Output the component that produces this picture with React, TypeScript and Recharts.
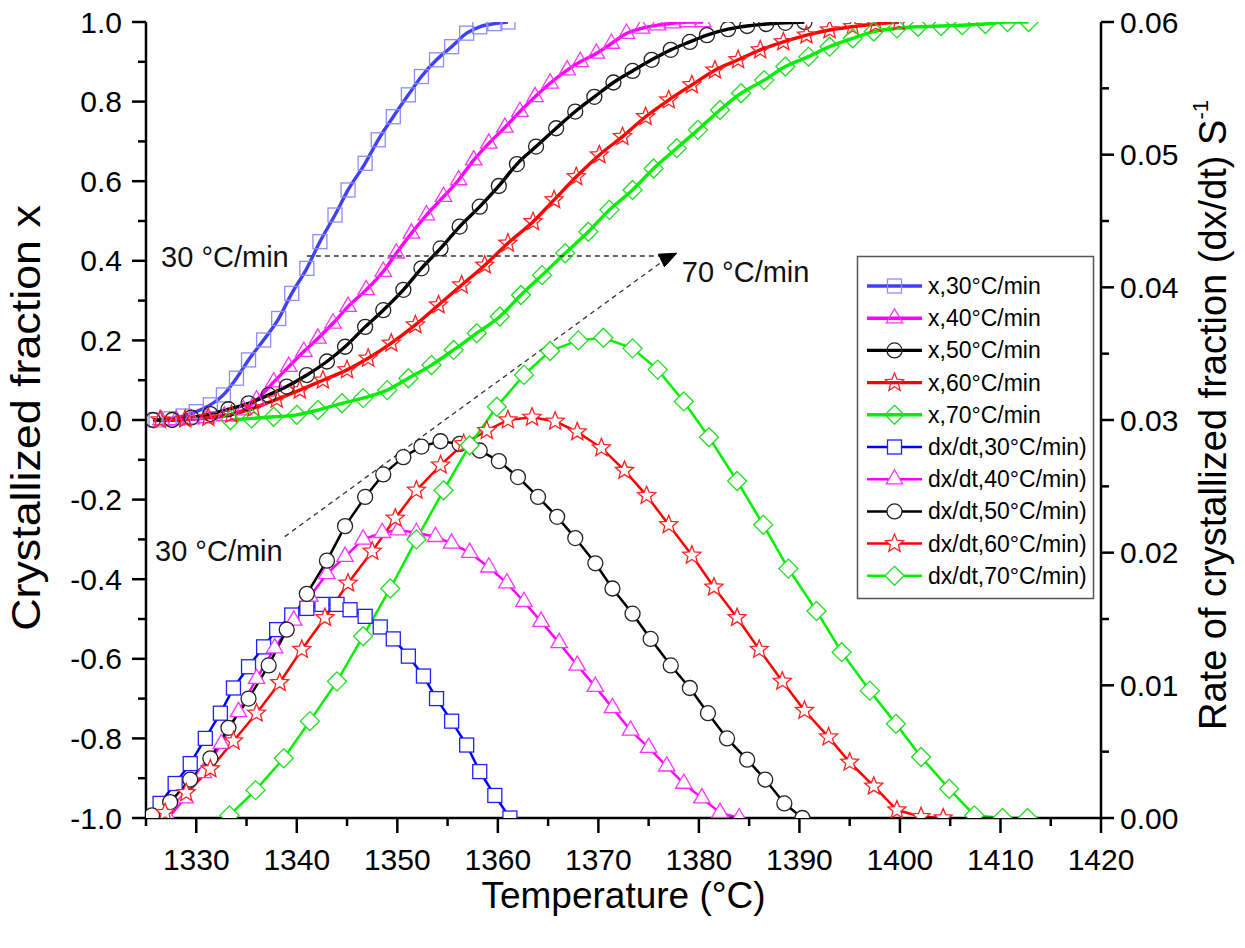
import React from "react";
import { LineChart, Line, XAxis, YAxis, ReferenceLine, ReferenceDot } from "recharts";

// [temperature °C, value]
const x30: [number, number][] = [
  [1326.0, 0.0], [1327.3, 0.003], [1328.7, 0.01], [1330.0, 0.021], [1331.4, 0.038], [1332.7, 0.063],
  [1334.0, 0.105], [1335.2, 0.151], [1336.7, 0.201], [1338.2, 0.255], [1339.5, 0.318], [1341.0, 0.381],
  [1342.3, 0.448], [1343.8, 0.515], [1345.1, 0.578], [1346.8, 0.645], [1348.1, 0.704], [1349.6, 0.762],
  [1351.1, 0.817], [1352.4, 0.863], [1353.9, 0.905], [1355.4, 0.938], [1356.9, 0.972], [1358.2, 0.988],
  [1359.7, 0.996], [1361.0, 1.0],
];
const x40: [number, number][] = [
  [1326.5, 0.0], [1328.0, 0.0], [1329.5, 0.002], [1331.0, 0.005], [1332.8, 0.01], [1334.7, 0.025],
  [1336.0, 0.05], [1337.7, 0.095], [1339.2, 0.134], [1340.7, 0.172], [1342.1, 0.205], [1343.6, 0.243],
  [1345.1, 0.285], [1346.9, 0.327], [1348.6, 0.373], [1349.9, 0.419], [1351.4, 0.469], [1352.9, 0.515],
  [1354.6, 0.561], [1356.1, 0.603], [1357.6, 0.653], [1359.1, 0.695], [1360.7, 0.735], [1362.2, 0.775],
  [1363.7, 0.812], [1365.2, 0.846], [1366.9, 0.879], [1368.2, 0.9], [1369.8, 0.921], [1371.3, 0.946],
  [1372.8, 0.971], [1374.3, 0.984], [1375.9, 0.992], [1377.4, 0.997], [1378.9, 1.0], [1380.4, 1.0],
];
const x50: [number, number][] = [
  [1325.7, 0.0], [1327.6, 0.0], [1329.5, 0.006], [1331.4, 0.015], [1333.2, 0.027], [1335.2, 0.042],
  [1337.2, 0.063], [1339.0, 0.084], [1341.0, 0.113], [1343.0, 0.147], [1344.8, 0.184], [1346.8, 0.234],
  [1348.6, 0.276], [1350.6, 0.327], [1352.4, 0.381], [1354.3, 0.431], [1356.2, 0.486], [1358.2, 0.536],
  [1360.1, 0.588], [1361.9, 0.643], [1363.8, 0.687], [1365.8, 0.733], [1367.7, 0.775], [1369.6, 0.812],
  [1371.5, 0.848], [1373.4, 0.877], [1375.3, 0.905], [1377.2, 0.93], [1379.1, 0.95], [1380.8, 0.967],
  [1382.9, 0.982], [1384.8, 0.99], [1386.7, 0.995], [1388.6, 0.998], [1390.5, 1.0],
];
const x60: [number, number][] = [
  [1326.4, 0.0], [1328.9, 0.002], [1331.2, 0.006], [1333.5, 0.014], [1335.7, 0.03], [1338.0, 0.052],
  [1340.3, 0.075], [1342.6, 0.1], [1345.0, 0.126], [1347.1, 0.155], [1349.4, 0.193], [1351.8, 0.239],
  [1354.1, 0.289], [1356.4, 0.339], [1358.7, 0.389], [1361.0, 0.444], [1363.5, 0.498], [1365.6, 0.553],
  [1367.8, 0.611], [1370.1, 0.666], [1372.4, 0.712], [1374.7, 0.762], [1377.0, 0.804], [1379.3, 0.842],
  [1381.6, 0.879], [1383.9, 0.905], [1386.1, 0.93], [1388.4, 0.95], [1390.7, 0.967], [1393.0, 0.98],
  [1395.3, 0.988], [1397.6, 0.995], [1399.9, 1.0],
];
const x70: [number, number][] = [
  [1333.4, 0.0], [1335.5, 0.004], [1337.7, 0.008], [1340.0, 0.013], [1342.1, 0.025], [1344.5, 0.042],
  [1346.6, 0.055], [1349.0, 0.075], [1351.1, 0.105], [1353.4, 0.138], [1355.6, 0.176], [1357.9, 0.218],
  [1360.2, 0.26], [1362.3, 0.314], [1364.4, 0.364], [1366.7, 0.419], [1369.0, 0.473], [1371.1, 0.528],
  [1373.4, 0.578], [1375.5, 0.632], [1377.8, 0.683], [1379.9, 0.729], [1382.1, 0.779], [1384.2, 0.821],
  [1386.5, 0.854], [1388.6, 0.888], [1390.9, 0.913], [1393.0, 0.938], [1395.3, 0.959], [1397.4, 0.976],
  [1399.7, 0.984], [1401.8, 0.988], [1404.1, 0.99], [1406.2, 0.992], [1408.5, 0.995], [1410.7, 1.0],
  [1412.8, 1.0],
];

const dx30: [number, number][] = [
  [1325.2, 0.0], [1326.4, 0.0011], [1327.9, 0.0026], [1329.4, 0.0041], [1330.9, 0.006], [1332.4, 0.0079],
  [1333.7, 0.0098], [1335.2, 0.0114], [1336.7, 0.0129], [1338.0, 0.0142], [1339.5, 0.0153], [1341.0, 0.0158],
  [1342.5, 0.0161], [1344.0, 0.0161], [1345.3, 0.0157], [1346.8, 0.0152], [1348.3, 0.0144], [1349.6, 0.0135],
  [1351.1, 0.0122], [1352.6, 0.0107], [1353.9, 0.009], [1355.4, 0.0073], [1356.9, 0.0055], [1358.2, 0.0035],
  [1359.7, 0.0017], [1361.2, 0.0],
];
const dx40: [number, number][] = [
  [1327.2, 0.0], [1328.9, 0.0015], [1330.7, 0.0034], [1332.5, 0.0056], [1334.2, 0.008], [1336.0, 0.0105],
  [1337.8, 0.0128], [1339.7, 0.0149], [1341.3, 0.0167], [1343.0, 0.0184], [1344.8, 0.0197], [1346.6, 0.021],
  [1348.5, 0.0215], [1350.1, 0.0217], [1351.9, 0.0215], [1353.8, 0.0212], [1355.4, 0.0207], [1357.2, 0.02],
  [1359.1, 0.0189], [1360.9, 0.0177], [1362.6, 0.0163], [1364.3, 0.0148], [1366.1, 0.0132], [1367.9, 0.0115],
  [1369.7, 0.0099], [1371.4, 0.0083], [1373.2, 0.0066], [1375.0, 0.0053], [1376.8, 0.0039], [1378.5, 0.0026],
  [1380.3, 0.0015], [1382.1, 0.0004], [1384.0, 0.0],
];
const dx50: [number, number][] = [
  [1325.6, 0.0002], [1327.4, 0.0012], [1329.4, 0.0029], [1331.4, 0.0045], [1333.2, 0.0068], [1335.2, 0.009],
  [1337.2, 0.0115], [1339.0, 0.0142], [1341.0, 0.0169], [1343.0, 0.0194], [1344.8, 0.022], [1346.8, 0.0242],
  [1348.6, 0.0259], [1350.6, 0.0272], [1352.4, 0.028], [1354.3, 0.0284], [1356.2, 0.0282], [1358.2, 0.0277],
  [1360.1, 0.0269], [1362.0, 0.0257], [1364.0, 0.0242], [1365.9, 0.0227], [1367.7, 0.0211], [1369.7, 0.0192],
  [1371.4, 0.0173], [1373.4, 0.0154], [1375.2, 0.0135], [1377.2, 0.0115], [1379.1, 0.0098], [1380.9, 0.0079],
  [1382.8, 0.006], [1384.8, 0.0044], [1386.6, 0.0029], [1388.5, 0.0011], [1390.3, 0.0],
];
const dx60: [number, number][] = [
  [1326.9, 0.0004], [1329.0, 0.0019], [1331.4, 0.0037], [1333.7, 0.0058], [1336.0, 0.0079], [1338.3, 0.0102],
  [1340.5, 0.0127], [1342.8, 0.0151], [1345.1, 0.0177], [1347.5, 0.0201], [1349.8, 0.0226], [1351.9, 0.0247],
  [1354.3, 0.0266], [1356.6, 0.0282], [1358.9, 0.0292], [1361.0, 0.03], [1363.4, 0.0302], [1365.7, 0.0299],
  [1367.9, 0.0291], [1370.3, 0.0279], [1372.6, 0.0262], [1374.8, 0.0243], [1377.0, 0.0221], [1379.3, 0.0198],
  [1381.5, 0.0174], [1383.8, 0.0151], [1386.0, 0.0127], [1388.3, 0.0103], [1390.5, 0.0081], [1392.9, 0.0061],
  [1395.0, 0.0042], [1397.4, 0.0024], [1399.7, 0.0006], [1402.1, 0.0001], [1404.3, 0.0],
];
const dx70: [number, number][] = [
  [1333.3, 0.0002], [1335.9, 0.0021], [1338.7, 0.0045], [1341.3, 0.0073], [1344.0, 0.0103], [1346.6, 0.0137],
  [1349.3, 0.0173], [1351.9, 0.021], [1354.6, 0.0247], [1357.2, 0.0281], [1359.9, 0.031], [1362.6, 0.0334],
  [1365.2, 0.0352], [1368.0, 0.036], [1370.5, 0.0362], [1373.4, 0.0354], [1375.9, 0.0338], [1378.5, 0.0314],
  [1381.0, 0.0287], [1383.8, 0.0254], [1386.4, 0.0221], [1388.9, 0.0188], [1391.7, 0.0156], [1394.2, 0.0125],
  [1397.0, 0.0096], [1399.6, 0.0071], [1402.1, 0.0046], [1404.9, 0.0022], [1407.4, 0.0002], [1410.2, 0.0],
  [1412.7, 0.0],
];

const xTicks = [1325, 1330, 1335, 1340, 1345, 1350, 1355, 1360, 1365, 1370, 1375, 1380, 1385, 1390, 1395, 1400, 1405, 1410, 1415, 1420];
const leftTicks = [-1.0, -0.9, -0.8, -0.7, -0.6, -0.5, -0.4, -0.3, -0.2, -0.1, 0.0, 0.1, 0.2, 0.3, 0.4, 0.5, 0.6, 0.7, 0.8, 0.9, 1.0];
const rightTicks = [0, 0.005, 0.01, 0.015, 0.02, 0.025, 0.03, 0.035, 0.04, 0.045, 0.05, 0.055, 0.06];

type Shape = "square" | "triangle" | "circle" | "star" | "diamond";
type Series = {
  name: string;
  pts: [number, number][];
  axis: "left" | "right";
  color: string;
  markColor: string;
  shape: Shape;
  filled: boolean;
  width: number;
  curve: "monotone" | "linear";
};

const series: Series[] = [
  { name: "x,30°C/min", pts: x30, axis: "left", color: "#4040f4", markColor: "#8c8cff", shape: "square", filled: false, width: 3.4, curve: "monotone" },
  { name: "x,40°C/min", pts: x40, axis: "left", color: "#ff00ff", markColor: "#ff33ff", shape: "triangle", filled: false, width: 3.4, curve: "monotone" },
  { name: "x,50°C/min", pts: x50, axis: "left", color: "#000000", markColor: "#222222", shape: "circle", filled: false, width: 3.4, curve: "monotone" },
  { name: "x,60°C/min", pts: x60, axis: "left", color: "#ff0000", markColor: "#ff2020", shape: "star", filled: false, width: 3.4, curve: "monotone" },
  { name: "x,70°C/min", pts: x70, axis: "left", color: "#00f000", markColor: "#22dd22", shape: "diamond", filled: false, width: 3.4, curve: "monotone" },
  { name: "dx/dt,30°C/min)", pts: dx30, axis: "right", color: "#0000ff", markColor: "#2020ff", shape: "square", filled: true, width: 2.5, curve: "linear" },
  { name: "dx/dt,40°C/min)", pts: dx40, axis: "right", color: "#ff00ff", markColor: "#ff33ff", shape: "triangle", filled: true, width: 2.5, curve: "linear" },
  { name: "dx/dt,50°C/min)", pts: dx50, axis: "right", color: "#000000", markColor: "#222222", shape: "circle", filled: true, width: 2.5, curve: "linear" },
  { name: "dx/dt,60°C/min)", pts: dx60, axis: "right", color: "#ff0000", markColor: "#ff2020", shape: "star", filled: true, width: 2.5, curve: "linear" },
  { name: "dx/dt,70°C/min)", pts: dx70, axis: "right", color: "#00f000", markColor: "#22dd22", shape: "diamond", filled: true, width: 2.5, curve: "linear" },
];

const FONT = "'Liberation Sans', Arial, Helvetica, sans-serif";
const tickText = { fontFamily: FONT, fontSize: 30, fill: "#000" } as const;
const titleText = { fontFamily: FONT, fontSize: 37, fill: "#000" } as const;

function Marker({ cx, cy, shape, color, fill }: { cx: number; cy: number; shape: Shape; color: string; fill: string }) {
  const sw = 1.3;
  if (shape === "square") {
    return <rect x={cx - 7} y={cy - 7} width={14} height={14} fill={fill} stroke={color} strokeWidth={sw} />;
  }
  if (shape === "circle") {
    return <circle cx={cx} cy={cy} r={7.5} fill={fill} stroke={color} strokeWidth={sw} />;
  }
  if (shape === "triangle") {
    const r = 9.5;
    const pts = `${cx},${cy - r} ${cx + r * 0.866},${cy + r * 0.5} ${cx - r * 0.866},${cy + r * 0.5}`;
    return <polygon points={pts} fill={fill} stroke={color} strokeWidth={sw} />;
  }
  if (shape === "diamond") {
    const r = 9.5;
    const pts = `${cx},${cy - r} ${cx + r},${cy} ${cx},${cy + r} ${cx - r},${cy}`;
    return <polygon points={pts} fill={fill} stroke={color} strokeWidth={sw} />;
  }
  const outer = 9.5;
  const inner = 4.2;
  const p: string[] = [];
  for (let i = 0; i < 10; i++) {
    const rr = i % 2 === 0 ? outer : inner;
    const a = -Math.PI / 2 + (i * Math.PI) / 5;
    p.push(`${cx + rr * Math.cos(a)},${cy + rr * Math.sin(a)}`);
  }
  return <polygon points={p.join(" ")} fill={fill} stroke={color} strokeWidth={sw} />;
}

const makeDot = (s: Series) => (props: any) => {
  const { cx, cy, index } = props;
  if (cx == null || cy == null) return <g key={`${s.name}-${index}`} />;
  return (
    <Marker key={`${s.name}-${index}`} cx={cx} cy={cy} shape={s.shape} color={s.markColor} fill={s.filled ? "#fff" : "none"} />
  );
};

const BottomTick = (props: any) => {
  const { x, y, payload } = props;
  const v = payload.value as number;
  const major = Math.round(v) % 10 === 0;
  return (
    <g>
      <line x1={x} x2={x} y1={y} y2={y + (major ? 15 : 8)} stroke="#000" strokeWidth={2.5} />
      {major && (
        <text x={x} y={y + 41} textAnchor="middle" dominantBaseline="central" style={tickText}>
          {v}
        </text>
      )}
    </g>
  );
};

const LeftTick = (props: any) => {
  const { x, y, payload } = props;
  const v = payload.value as number;
  const major = Math.round(v * 10) % 2 === 0;
  return (
    <g>
      <line x1={x} x2={x - (major ? 14 : 8)} y1={y} y2={y} stroke="#000" strokeWidth={2.5} />
      {major && (
        <text x={x - 24} y={y} textAnchor="end" dominantBaseline="central" style={tickText}>
          {v.toFixed(1)}
        </text>
      )}
    </g>
  );
};

const RightTick = (props: any) => {
  const { x, y, payload } = props;
  const v = payload.value as number;
  const major = Math.round(v * 1000) % 10 === 0;
  return (
    <g>
      <line x1={x} x2={x + (major ? 13 : 8)} y1={y} y2={y} stroke="#000" strokeWidth={2.5} />
      {major && (
        <text x={x + 19} y={y} textAnchor="start" dominantBaseline="central" style={tickText}>
          {v.toFixed(2)}
        </text>
      )}
    </g>
  );
};

const annoText = (value: string) => (props: any) => (
  <text x={props.cx} y={props.cy} textAnchor="start" dominantBaseline="central" style={{ fontFamily: FONT, fontSize: 29, fill: "#111" }}>
    {value}
  </text>
);

const ArrowHead = (props: any) => {
  const { cx, cy } = props;
  const pts = `${cx},${cy} ${cx - 12.4},${cy + 13.5} ${cx - 18.4},${cy + 0.9}`;
  return <polygon points={pts} fill="#000" stroke="#000" strokeWidth={1} />;
};

function LegendBox() {
  const rowGap = 32.2;
  return (
    <svg width={240} height={346} style={{ position: "absolute", left: 856, top: 255 }}>
      <rect x={1.5} y={1.5} width={236} height={342} fill="#fff" stroke="#555" strokeWidth={1.5} />
      {series.map((s, i) => {
        const y = 31 + i * rowGap;
        return (
          <g key={s.name}>
            <line x1={11} x2={66} y1={y} y2={y} stroke={s.color} strokeWidth={s.width} />
            <Marker cx={38.5} cy={y} shape={s.shape} color={s.markColor} fill={s.filled ? "#fff" : "none"} />
            <text x={72} y={y} dominantBaseline="central" style={{ fontFamily: FONT, fontSize: 23, fill: "#000" }}>
              {s.name}
            </text>
          </g>
        );
      })}
    </svg>
  );
}

export default function App() {
  return (
    <div style={{ position: "absolute", left: 0, top: 0, width: 1245, height: 948, background: "#fff" }}>
      <LineChart width={1245} height={948} margin={{ top: 22, right: 0, bottom: 0, left: 0 }}>
        <XAxis
          type="number"
          dataKey="t"
          domain={[1325, 1420]}
          ticks={xTicks}
          interval={0}
          tick={<BottomTick />}
          tickLine={false}
          tickSize={0}
          tickMargin={0}
          height={130}
          axisLine={{ stroke: "#000", strokeWidth: 2.5 }}
          allowDataOverflow
          label={(p: any) => {
            const vb = p.viewBox;
            return (
              <text x={vb.x + vb.width / 2} y={vb.y + 77} textAnchor="middle" dominantBaseline="central" style={titleText}>
                Temperature (°C)
              </text>
            );
          }}
        />
        <XAxis
          xAxisId="top"
          orientation="top"
          type="number"
          dataKey="t"
          domain={[1325, 1420]}
          height={0}
          tick={false}
          tickLine={false}
          axisLine={{ stroke: "#000", strokeWidth: 2.5 }}
        />
        <YAxis
          yAxisId="left"
          type="number"
          domain={[-1, 1]}
          ticks={leftTicks}
          interval={0}
          width={146}
          tick={<LeftTick />}
          tickLine={false}
          tickSize={0}
          tickMargin={0}
          axisLine={{ stroke: "#000", strokeWidth: 2.5 }}
          allowDataOverflow
          label={(p: any) => {
            const vb = p.viewBox;
            const cx = vb.x + 26;
            const cy = vb.y + vb.height / 2 - 2;
            return (
              <text
                x={cx}
                y={cy}
                transform={`translate(${cx},${cy}) scale(1,1.12) rotate(-90) translate(${-cx},${-cy})`}
                textAnchor="middle"
                dominantBaseline="central"
                style={{ fontFamily: FONT, fontSize: 40, fill: "#000" }}
              >
                Crystallized fraction x
              </text>
            );
          }}
        />
        <YAxis
          yAxisId="right"
          orientation="right"
          type="number"
          domain={[0, 0.06]}
          ticks={rightTicks}
          interval={0}
          width={144}
          tick={<RightTick />}
          tickLine={false}
          tickSize={0}
          tickMargin={0}
          axisLine={{ stroke: "#000", strokeWidth: 2.5 }}
          allowDataOverflow
          label={(p: any) => {
            const vb = p.viewBox;
            const cx = vb.x + 112;
            const cy = vb.y + vb.height / 2 - 5;
            return (
              <text
                x={cx}
                y={cy}
                transform={`rotate(-90, ${cx}, ${cy})`}
                textAnchor="middle"
                dominantBaseline="central"
                style={{ fontFamily: FONT, fontSize: 38, fill: "#000" }}
              >
                <tspan>Rate of crystallized fraction (dx/dt) S</tspan>
                <tspan dy={-13} fontSize={22}>-1</tspan>
              </text>
            );
          }}
        />

        {series.map((s) => (
          <Line
            key={s.name}
            name={s.name}
            data={s.pts.map(([t, v]) => ({ t, v }))}
            dataKey="v"
            yAxisId={s.axis}
            type={s.curve}
            stroke={s.color}
            strokeWidth={s.width}
            dot={makeDot(s)}
            activeDot={false}
            isAnimationActive={false}
          />
        ))}

        <ReferenceLine
          yAxisId="left"
          segment={[{ x: 1341.0, y: 0.412 }, { x: 1376.4, y: 0.412 }]}
          stroke="#333"
          strokeWidth={1.3}
          strokeDasharray="5 4"
        />
        <ReferenceLine
          yAxisId="left"
          segment={[{ x: 1338.8, y: -0.293 }, { x: 1376.3, y: 0.397 }]}
          stroke="#333"
          strokeWidth={1.3}
          strokeDasharray="5 4"
        />
        <ReferenceDot yAxisId="left" x={1377.8} y={0.419} r={0} shape={ArrowHead} />
        <ReferenceDot yAxisId="left" x={1326.5} y={0.41} r={0} shape={annoText("30 °C/min")} />
        <ReferenceDot yAxisId="left" x={1325.9} y={-0.329} r={0} shape={annoText("30 °C/min")} />
        <ReferenceDot yAxisId="left" x={1378.3} y={0.373} r={0} shape={annoText("70 °C/min")} />
      </LineChart>
      <LegendBox />
    </div>
  );
}
